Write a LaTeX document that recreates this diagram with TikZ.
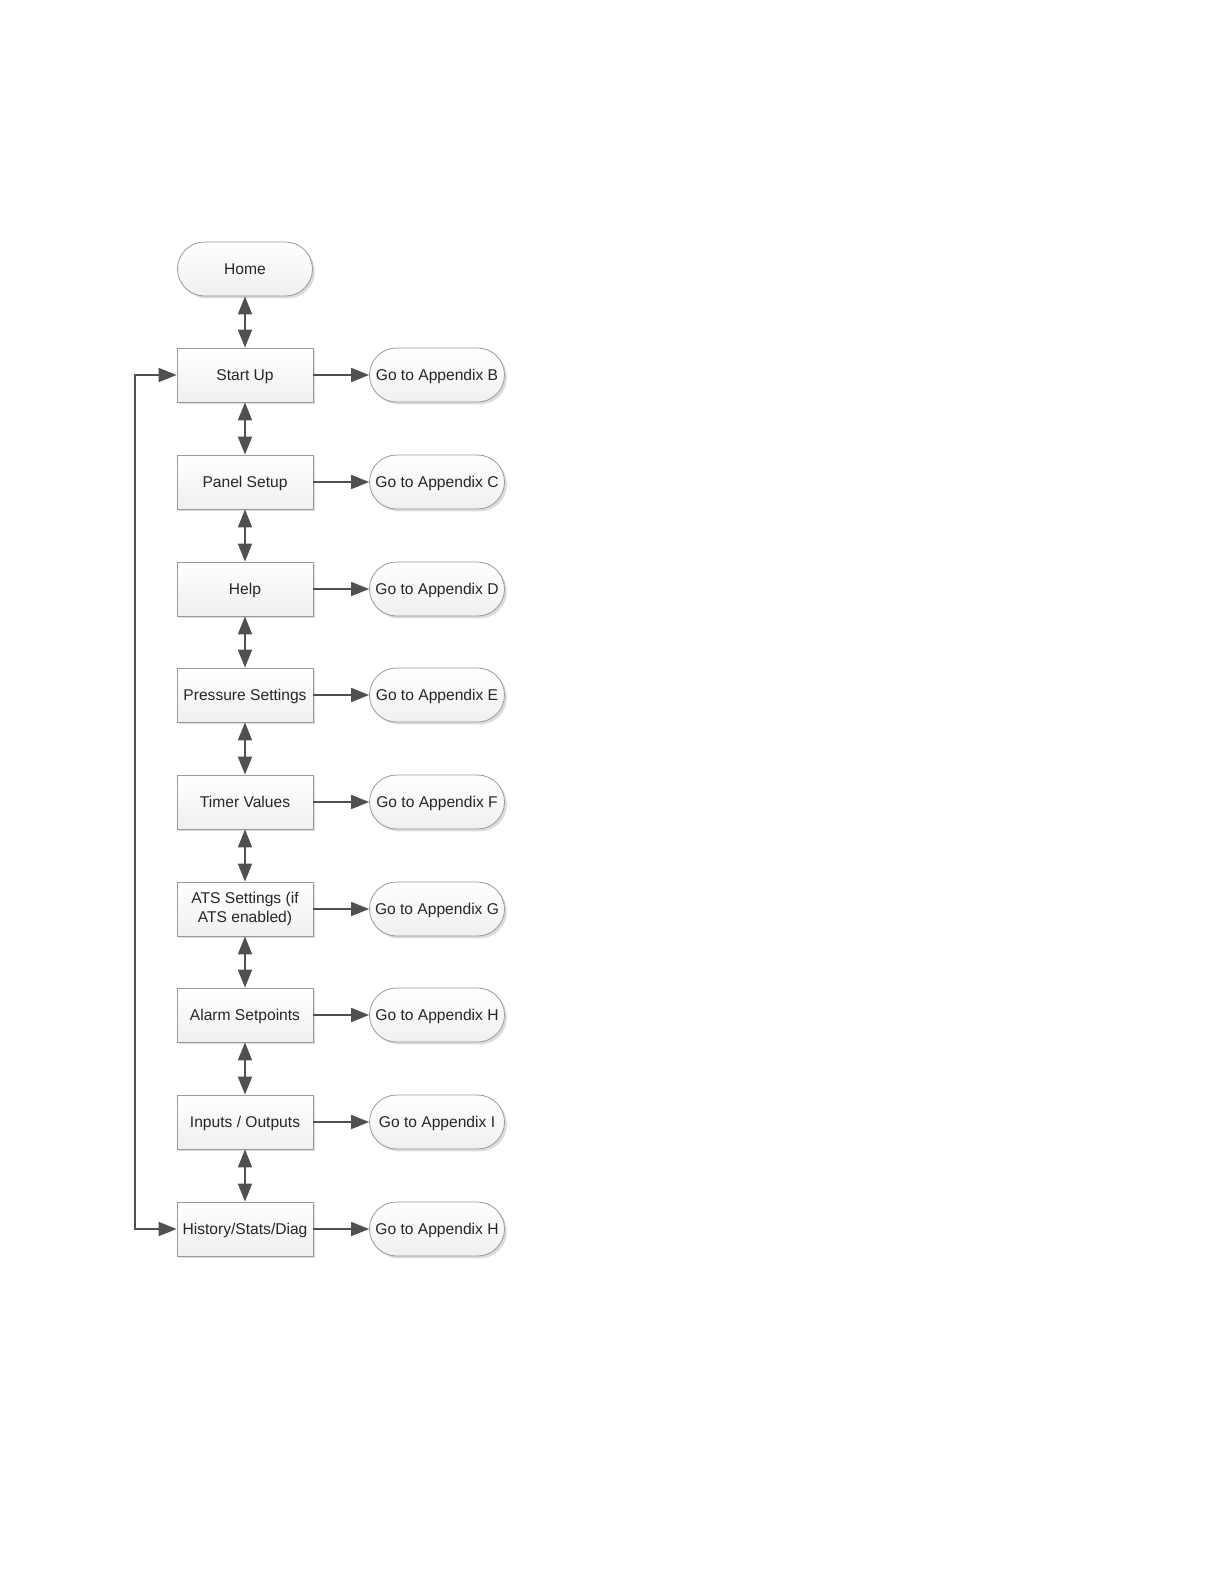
\documentclass[tikz,border=0pt]{standalone}
\usepackage{fontspec}
\setmainfont{Liberation Sans}
\usetikzlibrary{arrows.meta,shapes.misc,shadows}
\definecolor{linec}{HTML}{505050}
\definecolor{bordc}{HTML}{9A9A9A}
\begin{document}
\begin{tikzpicture}[x=0.5pt,y=-0.5pt,
  base/.style={draw=bordc, line width=0.4pt, top color=white, bottom color=gray!12,
    font=\fontsize{7.8}{9.2}\selectfont, text=black!85, align=center,
    drop shadow={shadow xshift=1.2pt, shadow yshift=-1.2pt, fill=gray!55, opacity=0.5}},
  oneline/.style={text height=1.45ex, text depth=0.35ex},
  menubox/.style={base, rectangle, minimum width=68pt, minimum height=27pt, inner sep=1pt},
  term/.style={base, oneline, rounded rectangle, minimum width=69.5pt, minimum height=27pt, inner sep=1pt},
  conn/.style={draw=linec, line width=0.9pt, -{Triangle[length=9pt,width=7pt]}},
  dconn/.style={draw=linec, line width=0.9pt, {Triangle[length=9pt,width=7pt]}-{Triangle[length=9pt,width=7pt]}}
]
\useasboundingbox (0,0) rectangle (1224,1584);
\node[term] (home) at (245,269) {Home};
\node[menubox,oneline] (m1) at (245,375) {Start Up};
\node[menubox,oneline] (m2) at (245,482) {Panel Setup};
\node[menubox,oneline] (m3) at (245,589) {Help};
\node[menubox,oneline] (m4) at (245,695) {Pressure Settings};
\node[menubox,oneline] (m5) at (245,802) {Timer Values};
\node[menubox] (m6) at (245,909) {ATS Settings (if\\ATS enabled)};
\node[menubox,oneline] (m7) at (245,1015) {Alarm Setpoints};
\node[menubox,oneline] (m8) at (245,1122) {Inputs / Outputs};
\node[menubox,oneline] (m9) at (245,1229) {History/Stats/Diag};
\node[term] (a1) at (437,375) {Go to Appendix B};
\node[term] (a2) at (437,482) {Go to Appendix C};
\node[term] (a3) at (437,589) {Go to Appendix D};
\node[term] (a4) at (437,695) {Go to Appendix E};
\node[term] (a5) at (437,802) {Go to Appendix F};
\node[term] (a6) at (437,909) {Go to Appendix G};
\node[term] (a7) at (437,1015) {Go to Appendix H};
\node[term] (a8) at (437,1122) {Go to Appendix I};
\node[term] (a9) at (437,1229) {Go to Appendix H};
\draw[dconn] (home) -- (m1);
\foreach \i/\j in {1/2,2/3,3/4,4/5,5/6,6/7,7/8,8/9} \draw[dconn] (m\i) -- (m\j);
\foreach \i in {1,...,9} \draw[conn] (m\i) -- (a\i);
\coordinate (lt) at (135,375);
\coordinate (lb) at (135,1229);
\draw[dconn] (m1.west) -- (lt) -- (lb) -- (m9.west);
\end{tikzpicture}
\end{document}
